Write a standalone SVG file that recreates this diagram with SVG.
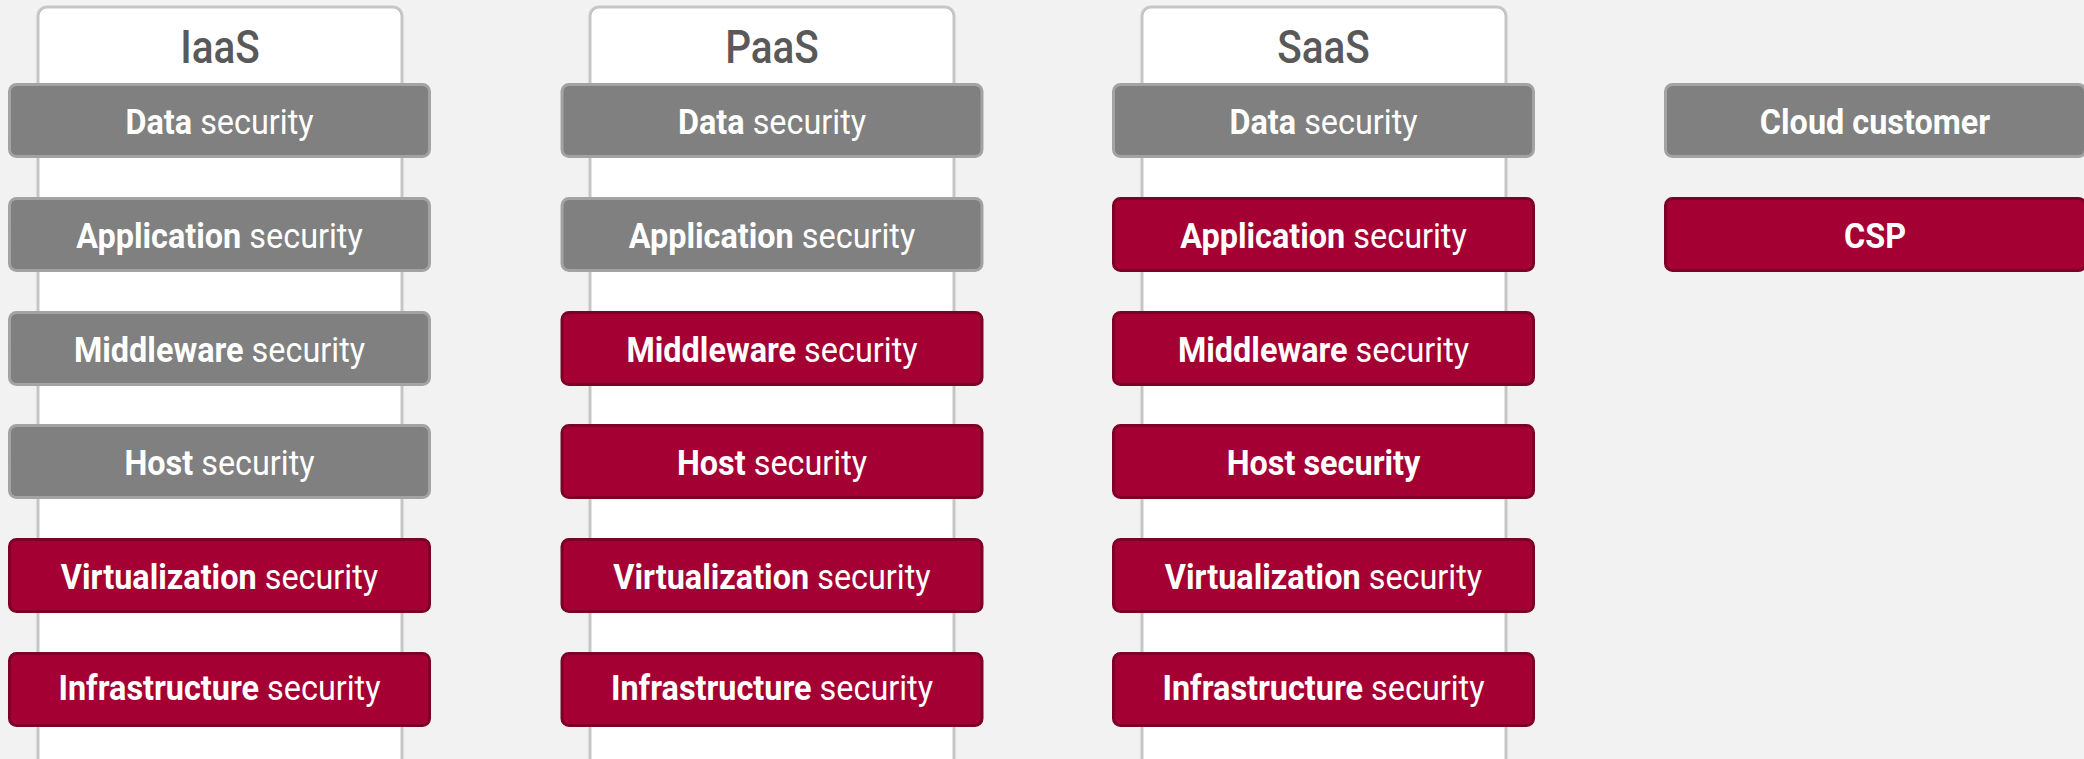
<svg xmlns="http://www.w3.org/2000/svg" width="2084" height="759" viewBox="0 0 2084 759">
<style>
.bg{fill:#f2f2f2}
.col{fill:#ffffff;stroke:#c6c6c6;stroke-width:3}
.g{fill:#808080;stroke:#a3a3a3;stroke-width:3}
.r{fill:#a50034;stroke:#7d0026;stroke-width:3}
.t{font-family:Roboto,"Liberation Sans",sans-serif;font-size:36px;fill:#ffffff;text-anchor:middle}
.b{font-weight:700}
.n{font-weight:400}
.h{font-family:Roboto,"Liberation Sans",sans-serif;font-size:46px;font-weight:500;fill:#595959;text-anchor:middle}
</style>
<rect class="bg" x="0" y="0" width="2084" height="759"/>
<g id="connectors"/>
<g id="col-iaas">
<rect class="col" x="38" y="7" width="364" height="760" rx="9"/>
<text class="h" transform="translate(220,63) scale(0.88,1)">IaaS</text>
</g>
<g id="col-paas">
<rect class="col" x="590" y="7" width="364" height="760" rx="9"/>
<text class="h" transform="translate(772,63) scale(0.88,1)">PaaS</text>
</g>
<g id="col-saas">
<rect class="col" x="1142" y="7" width="364" height="760" rx="9"/>
<text class="h" transform="translate(1323.5,63) scale(0.88,1)">SaaS</text>
</g>

<g id="iaas-data"><rect class="g" x="9.5" y="84.5" width="420" height="72" rx="7"/><text class="t" transform="translate(219.5,134) scale(0.9,1)"><tspan class="b">Data</tspan> <tspan class="n">security</tspan></text></g>
<g id="iaas-app"><rect class="g" x="9.5" y="198.5" width="420" height="72" rx="7"/><text class="t" transform="translate(219.5,248) scale(0.9,1)"><tspan class="b">Application</tspan> <tspan class="n">security</tspan></text></g>
<g id="iaas-mid"><rect class="g" x="9.5" y="312.5" width="420" height="72" rx="7"/><text class="t" transform="translate(219.5,362) scale(0.9,1)"><tspan class="b">Middleware</tspan> <tspan class="n">security</tspan></text></g>
<g id="iaas-host"><rect class="g" x="9.5" y="425.5" width="420" height="72" rx="7"/><text class="t" transform="translate(219.5,475) scale(0.9,1)"><tspan class="b">Host</tspan> <tspan class="n">security</tspan></text></g>
<g id="iaas-virt"><rect class="r" x="9.5" y="539.5" width="420" height="72" rx="7"/><text class="t" transform="translate(219.5,589) scale(0.9,1)"><tspan class="b">Virtualization</tspan> <tspan class="n">security</tspan></text></g>
<g id="iaas-infra"><rect class="r" x="9.5" y="653.5" width="420" height="72" rx="7"/><text class="t" transform="translate(219.5,700) scale(0.9,1)"><tspan class="b">Infrastructure</tspan> <tspan class="n">security</tspan></text></g>

<g id="paas-data"><rect class="g" x="562" y="84.5" width="420" height="72" rx="7"/><text class="t" transform="translate(772,134) scale(0.9,1)"><tspan class="b">Data</tspan> <tspan class="n">security</tspan></text></g>
<g id="paas-app"><rect class="g" x="562" y="198.5" width="420" height="72" rx="7"/><text class="t" transform="translate(772,248) scale(0.9,1)"><tspan class="b">Application</tspan> <tspan class="n">security</tspan></text></g>
<g id="paas-mid"><rect class="r" x="562" y="312.5" width="420" height="72" rx="7"/><text class="t" transform="translate(772,362) scale(0.9,1)"><tspan class="b">Middleware</tspan> <tspan class="n">security</tspan></text></g>
<g id="paas-host"><rect class="r" x="562" y="425.5" width="420" height="72" rx="7"/><text class="t" transform="translate(772,475) scale(0.9,1)"><tspan class="b">Host</tspan> <tspan class="n">security</tspan></text></g>
<g id="paas-virt"><rect class="r" x="562" y="539.5" width="420" height="72" rx="7"/><text class="t" transform="translate(772,589) scale(0.9,1)"><tspan class="b">Virtualization</tspan> <tspan class="n">security</tspan></text></g>
<g id="paas-infra"><rect class="r" x="562" y="653.5" width="420" height="72" rx="7"/><text class="t" transform="translate(772,700) scale(0.9,1)"><tspan class="b">Infrastructure</tspan> <tspan class="n">security</tspan></text></g>

<g id="saas-data"><rect class="g" x="1113.5" y="84.5" width="420" height="72" rx="7"/><text class="t" transform="translate(1323.5,134) scale(0.9,1)"><tspan class="b">Data</tspan> <tspan class="n">security</tspan></text></g>
<g id="saas-app"><rect class="r" x="1113.5" y="198.5" width="420" height="72" rx="7"/><text class="t" transform="translate(1323.5,248) scale(0.9,1)"><tspan class="b">Application</tspan> <tspan class="n">security</tspan></text></g>
<g id="saas-mid"><rect class="r" x="1113.5" y="312.5" width="420" height="72" rx="7"/><text class="t" transform="translate(1323.5,362) scale(0.9,1)"><tspan class="b">Middleware</tspan> <tspan class="n">security</tspan></text></g>
<g id="saas-host"><rect class="r" x="1113.5" y="425.5" width="420" height="72" rx="7"/><text class="t b" transform="translate(1323.5,475) scale(0.9,1)">Host security</text></g>
<g id="saas-virt"><rect class="r" x="1113.5" y="539.5" width="420" height="72" rx="7"/><text class="t" transform="translate(1323.5,589) scale(0.9,1)"><tspan class="b">Virtualization</tspan> <tspan class="n">security</tspan></text></g>
<g id="saas-infra"><rect class="r" x="1113.5" y="653.5" width="420" height="72" rx="7"/><text class="t" transform="translate(1323.5,700) scale(0.9,1)"><tspan class="b">Infrastructure</tspan> <tspan class="n">security</tspan></text></g>

<g id="legend-customer"><rect class="g" x="1665.5" y="84.5" width="420" height="72" rx="7"/><text class="t b" transform="translate(1875,134) scale(0.9,1)">Cloud customer</text></g>
<g id="legend-csp"><rect class="r" x="1665.5" y="198.5" width="420" height="72" rx="7"/><text class="t b" transform="translate(1875,248) scale(0.9,1)">CSP</text></g>
</svg>
